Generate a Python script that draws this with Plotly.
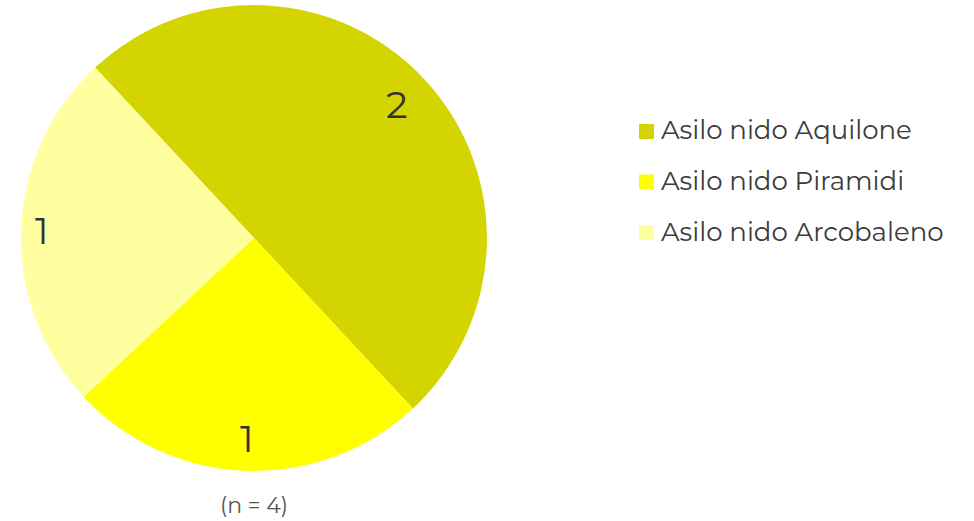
import math
import plotly.graph_objects as go

# Number of children per nursery
labels = ["Asilo nido Aquilone", "Asilo nido Piramidi", "Asilo nido Arcobaleno"]
values = [2, 1, 1]
colors = ["#d4d400", "#ffff00", "#ffffa0"]
total_label = "(n = 4)"

W, H = 974, 521
cx, cy, r = 254, 238, 233
ROTATION = -43          # start of the first slice, degrees clockwise from 12 o'clock
LABEL_RADIUS = [0.84, 0.86, 0.91]  # value labels, as a fraction of the pie radius
FONT = "Montserrat, Open Sans, sans-serif"

fig = go.Figure(
    go.Pie(
        labels=labels,
        values=values,
        sort=False,
        direction="clockwise",
        rotation=ROTATION,
        marker=dict(colors=colors, line=dict(width=0)),
        textinfo="none",
        domain=dict(x=[(cx - r) / W, (cx + r) / W], y=[1 - (cy + r) / H, 1 - (cy - r) / H]),
        hoverinfo="label+value",
        showlegend=False,
    )
)

# Value labels placed at the middle angle of each slice
total = sum(values)
start = 0.0
for v, k in zip(values, LABEL_RADIUS):
    mid = start + v / 2
    ang = math.radians(ROTATION + 360 * mid / total)  # clockwise from 12 o'clock
    px = cx + k * r * math.sin(ang)
    py = cy - k * r * math.cos(ang)
    fig.add_annotation(
        text=str(v), x=px / W, y=1 - py / H, xref="paper", yref="paper",
        xanchor="center", yanchor="middle", showarrow=False,
        font=dict(family=FONT, size=38, color="#333333"),
    )
    start += v

fig.add_annotation(
    text=total_label,
    x=cx / W, y=1 - 505 / H, xref="paper", yref="paper",
    xanchor="center", yanchor="middle", showarrow=False,
    font=dict(family=FONT, size=22, color="#555555"),
)

# Legend: colour square followed by the nursery name
legend_x, legend_y0, legend_dy, box = 639, 131.5, 50.5, 15
for i, (lab, col) in enumerate(zip(labels, colors)):
    yc = legend_y0 + i * legend_dy
    fig.add_shape(
        type="rect", xref="paper", yref="paper",
        x0=legend_x / W, x1=(legend_x + box) / W,
        y0=1 - (yc + box / 2) / H, y1=1 - (yc - box / 2) / H,
        fillcolor=col, line=dict(width=0),
    )
    fig.add_annotation(
        text=lab, x=(legend_x + box + 5) / W, y=1 - (yc - 1) / H,
        xref="paper", yref="paper", xanchor="left", yanchor="middle",
        showarrow=False,
        font=dict(family=FONT, size=26, color="#3c3c3c"),
    )

fig.update_layout(
    width=W, height=H,
    margin=dict(l=0, r=0, t=0, b=0),
    paper_bgcolor="white",
    plot_bgcolor="white",
    showlegend=False,
)

fig.write_html("out.html")
